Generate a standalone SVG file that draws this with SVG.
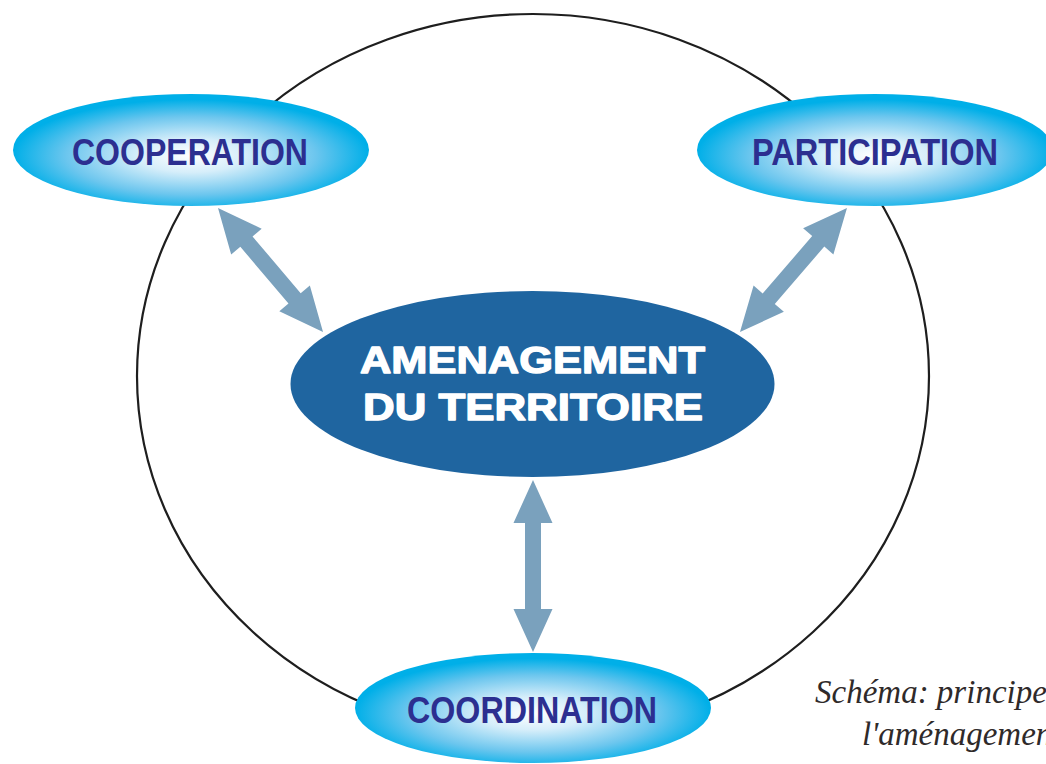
<svg xmlns="http://www.w3.org/2000/svg" width="1046" height="764" viewBox="0 0 1046 764">
<defs>
<radialGradient id="lightGrad" cx="50%" cy="55%" r="50%">
<stop offset="0" stop-color="#ffffff"/>
<stop offset="0.3" stop-color="#d6eefa"/>
<stop offset="0.7" stop-color="#6cc6ee"/>
<stop offset="1" stop-color="#00afe8"/>
</radialGradient>
<style>
.ring{fill:none;stroke:#1e1e1e;stroke-width:2.2}
.arrow{fill:#7aa1bd}
.light{fill:url(#lightGrad)}
.core{fill:#1f65a0}
.lbl{font-family:"Liberation Sans",Arial,sans-serif;font-weight:bold;font-size:37px;fill:#2c2f90}
.core-lbl{font-family:"Liberation Sans",Arial,sans-serif;font-weight:bold;font-size:36px;fill:#ffffff;stroke:#ffffff;stroke-width:1.3;stroke-linejoin:round}
.caption{font-family:"Liberation Serif","Times New Roman",serif;font-style:italic;font-size:33px;fill:#2f2a2a}
</style>
</defs>
<rect width="1046" height="764" fill="#ffffff"/>
<ellipse class="ring" cx="533" cy="376" rx="396" ry="362"/>
<g id="connectors">
<polygon class="arrow" transform="translate(218,208) rotate(49.74)" points="0,0 44,-20 44,-8 118.5,-8 118.5,-20 162.5,0 118.5,20 118.5,8 44,8 44,20"/>
<polygon class="arrow" transform="translate(847,208) rotate(130.8)" points="0,0 44,-20 44,-8 119.8,-8 119.8,-20 163.8,0 119.8,20 119.8,8 44,8 44,20"/>
<polygon class="arrow" transform="translate(533,480) rotate(90)" points="0,0 43,-19.5 43,-8 129,-8 129,-19.5 172,0 129,19.5 129,8 43,8 43,19.5"/>
</g>
<g id="cooperation">
<ellipse class="light" cx="191" cy="150" rx="178" ry="56"/>
<text class="lbl" x="72" y="165" textLength="236" lengthAdjust="spacingAndGlyphs">COOPERATION</text>
</g>
<g id="participation">
<ellipse class="light" cx="875" cy="150" rx="178" ry="56"/>
<text class="lbl" x="752" y="165" textLength="246" lengthAdjust="spacingAndGlyphs">PARTICIPATION</text>
</g>
<g id="coordination">
<ellipse class="light" cx="533" cy="708" rx="178" ry="55"/>
<text class="lbl" x="407" y="723" textLength="250" lengthAdjust="spacingAndGlyphs">COORDINATION</text>
</g>
<g id="amenagement">
<ellipse class="core" cx="532.5" cy="384" rx="242" ry="93"/>
<text class="core-lbl" x="360" y="373" textLength="345" lengthAdjust="spacingAndGlyphs">AMENAGEMENT</text>
<text class="core-lbl" x="363" y="420" textLength="340" lengthAdjust="spacingAndGlyphs">DU TERRITOIRE</text>
</g>
<g id="caption">
<text class="caption" x="815" y="703">Schéma: principe</text>
<text class="caption" x="862" y="745">l'aménagement</text>
</g>
</svg>
